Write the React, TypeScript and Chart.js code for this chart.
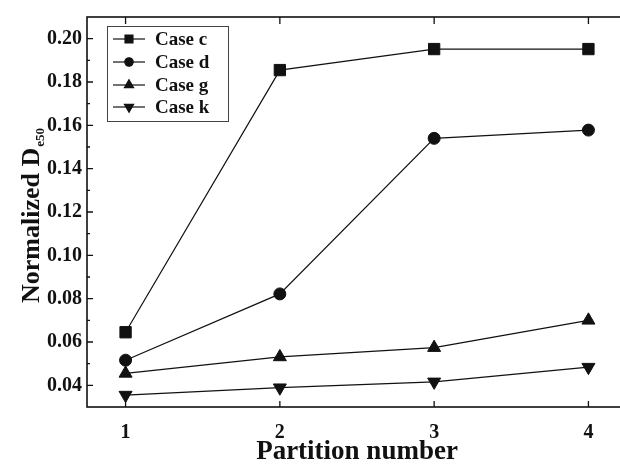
import { useEffect, useRef } from "react";
import { Chart, registerables } from "chart.js";
import { drawPoint } from "chart.js/helpers";

Chart.register(...registerables);

// Partition numbers on the x axis
const partitions = [1, 2, 3, 4];

// Normalized De50 for each case
const caseC = [0.0645, 0.1855, 0.1952, 0.1952];
const caseD = [0.0516, 0.0822, 0.154, 0.1578];
const caseG = [0.0455, 0.0531, 0.0574, 0.07];
const caseK = [0.0355, 0.0389, 0.0416, 0.0484];

const seriesNames = ["Case c", "Case d", "Case g", "Case k"];

const xTickValues = [1, 2, 3, 4];
const yTickValues = [0.04, 0.06, 0.08, 0.1, 0.12, 0.14, 0.16, 0.18, 0.2];
const yMinorValues = [0.05, 0.07, 0.09, 0.11, 0.13, 0.15, 0.17, 0.19];

const xTitle = "Partition number";
const yTitleMain = "Normalized D";
const yTitleSub = "e50";

const SERIF = "'Liberation Serif', 'Times New Roman', serif";
const INK = "#111111";

const markers = [
  { pointStyle: "rect", rotation: 0, radius: 8 },
  { pointStyle: "circle", rotation: 0, radius: 6 },
  { pointStyle: "triangle", rotation: 0, radius: 7.5 },
  { pointStyle: "triangle", rotation: 180, radius: 7.5 },
];

const seriesValues = [caseC, caseD, caseG, caseK];

const framePlugin = {
  id: "frameAndTitles",
  afterDraw(chart: any) {
    const { ctx, chartArea: a, scales } = chart;
    const xs = scales.x;
    const ys = scales.y;
    ctx.save();

    // plot frame
    ctx.strokeStyle = INK;
    ctx.lineWidth = 1.6;
    ctx.strokeRect(a.left, a.top, a.right - a.left, a.bottom - a.top);

    // inward ticks on all four sides
    ctx.lineWidth = 1.3;
    ctx.beginPath();
    for (const v of xTickValues) {
      const px = xs.getPixelForValue(v);
      ctx.moveTo(px, a.bottom);
      ctx.lineTo(px, a.bottom - 6);
      ctx.moveTo(px, a.top);
      ctx.lineTo(px, a.top + 7);
    }
    for (const v of yTickValues) {
      const py = ys.getPixelForValue(v);
      ctx.moveTo(a.left, py);
      ctx.lineTo(a.left + 6, py);
      ctx.moveTo(a.right, py);
      ctx.lineTo(a.right - 6, py);
    }
    for (const v of yMinorValues) {
      const py = ys.getPixelForValue(v);
      ctx.moveTo(a.left, py);
      ctx.lineTo(a.left + 3, py);
      ctx.moveTo(a.right, py);
      ctx.lineTo(a.right - 3, py);
    }
    ctx.stroke();

    // x axis title
    ctx.fillStyle = INK;
    ctx.font = `bold 27px ${SERIF}`;
    ctx.textAlign = "center";
    ctx.textBaseline = "alphabetic";
    ctx.fillText(xTitle, (a.left + a.right) / 2, 459);

    // y axis title with subscript
    ctx.save();
    ctx.translate(39, 303);
    ctx.rotate(-Math.PI / 2);
    ctx.textAlign = "left";
    ctx.font = `bold 26px ${SERIF}`;
    ctx.fillText(yTitleMain, 0, 0);
    const w = ctx.measureText(yTitleMain).width;
    ctx.font = `bold 13px ${SERIF}`;
    ctx.fillText(yTitleSub, w + 1, 5);
    ctx.restore();

    // legend
    const boxL = 107;
    const boxT = 26;
    const boxW = 121;
    const boxH = 95;
    ctx.strokeStyle = "#444444";
    ctx.lineWidth = 1;
    ctx.fillStyle = "#ffffff";
    ctx.fillRect(boxL, boxT, boxW, boxH);
    ctx.strokeRect(boxL + 0.5, boxT + 0.5, boxW, boxH);
    const rows = [39, 62, 85, 107];
    seriesNames.forEach((name, i) => {
      const ry = rows[i];
      ctx.strokeStyle = INK;
      ctx.lineWidth = 1.2;
      ctx.beginPath();
      ctx.moveTo(113, ry);
      ctx.lineTo(145, ry);
      ctx.stroke();
      ctx.fillStyle = INK;
      const m = markers[i];
      drawPoint(ctx, {
        pointStyle: m.pointStyle as any,
        rotation: m.rotation,
        radius: m.radius * 0.7,
        borderWidth: 1,
      }, 129, ry);
      ctx.fillStyle = INK;
      ctx.font = `bold 19px ${SERIF}`;
      ctx.textAlign = "left";
      ctx.textBaseline = "middle";
      ctx.fillText(name, 155, ry + 1);
    });

    ctx.restore();
  },
};

export default function App() {
  const canvasRef = useRef<HTMLCanvasElement | null>(null);

  useEffect(() => {
    document.body.style.overflow = "hidden";
    const canvas = canvasRef.current;
    if (!canvas) return;

    const datasets = seriesNames.map((name, i) => ({
      label: name,
      data: partitions.map((p, j) => ({ x: p, y: seriesValues[i][j] })),
      borderColor: INK,
      backgroundColor: INK,
      borderWidth: 1.2,
      pointStyle: markers[i].pointStyle as any,
      rotation: markers[i].rotation,
      pointRadius: markers[i].radius,
      pointBorderWidth: 1,
      pointBackgroundColor: INK,
      pointBorderColor: INK,
      tension: 0,
      clip: false as any,
    }));

    const chart = new Chart(canvas, {
      type: "line",
      data: { datasets },
      options: {
        animation: false,
        responsive: false,
        layout: { padding: { left: 0, top: 12, right: 13, bottom: 0 } },
        plugins: {
          legend: { display: false },
          tooltip: { enabled: false },
        },
        scales: {
          x: {
            type: "linear",
            min: 0.75,
            max: 4.25,
            grid: { display: false, drawTicks: false },
            border: { display: false },
            afterBuildTicks: (scale: any) => {
              scale.ticks = xTickValues.map((v) => ({ value: v }));
            },
            afterFit: (scale: any) => {
              scale.height = 59;
            },
            ticks: {
              padding: 14,
              color: INK,
              font: { family: SERIF, size: 20, weight: "bold" },
              callback: (v: any) => String(v),
            },
          },
          y: {
            type: "linear",
            min: 0.03,
            max: 0.21,
            grid: { display: false, drawTicks: false },
            border: { display: false },
            afterBuildTicks: (scale: any) => {
              scale.ticks = yTickValues.map((v) => ({ value: v }));
            },
            afterFit: (scale: any) => {
              scale.width = 87;
            },
            ticks: {
              padding: 5,
              color: INK,
              font: { family: SERIF, size: 20, weight: "bold" },
              callback: (v: any) => Number(v).toFixed(2),
            },
          },
        },
      },
      plugins: [framePlugin],
    });

    return () => chart.destroy();
  }, []);

  return (
    <div style={{ position: "fixed", left: 0, top: 0, width: 640, height: 466, background: "#fff" }}>
      <canvas ref={canvasRef} width={640} height={466} style={{ width: 640, height: 466, display: "block" }} />
    </div>
  );
}
